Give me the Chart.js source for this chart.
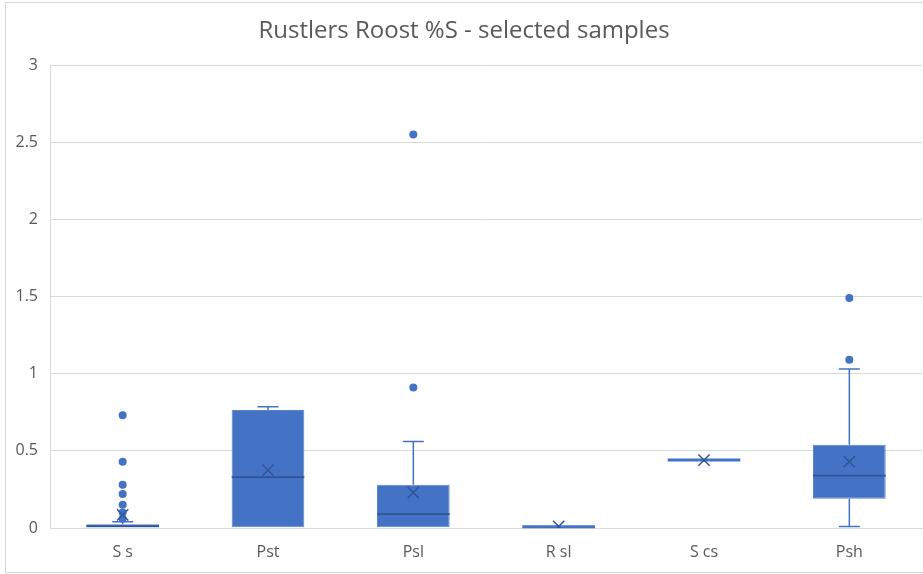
<!DOCTYPE html>
<html>
<head>
<meta charset="utf-8">
<title>Rustlers Roost %S</title>
<script src="https://cdn.jsdelivr.net/npm/chart.js@4.4.1/dist/chart.umd.min.js"></script>
<style>
  html, body { margin: 0; padding: 0; overflow: hidden; background: #fff; width: 923px; height: 574px; }
  #frame { position: absolute; left: 5px; top: 2px; width: 931px; height: 571px;
           border: 1px solid #d9d9d9; box-sizing: border-box; background: #fff; }
  canvas { display: block; }
</style>
</head>
<body>
<div id="frame"><canvas id="chart" width="929" height="569"></canvas></div>
<script>
// Sample groups on the category axis
const categories = ['S s', 'Pst', 'Psl', 'R sl', 'S cs', 'Psh'];

// Five-number summaries (%S) per group
const whiskerLow  = [0.004, 0.005, 0.005, 0.008, 0.44, 0.01];
const quartile1   = [0.004, 0.005, 0.005, 0.008, 0.44, 0.19];
const medians     = [0.012, 0.33,  0.09,  0.008, 0.44, 0.34];
const quartile3   = [0.025, 0.765, 0.28,  0.008, 0.44, 0.54];
const whiskerHigh = [0.04,  0.785, 0.56,  0.008, 0.44, 1.03];
const means       = [0.085, 0.375, 0.23,  0.01,  0.44, 0.43];

// Outlying samples: group name and %S
const outlierGroups = ['S s', 'S s', 'S s', 'S s', 'S s', 'S s', 'S s', 'Psl', 'Psl', 'Psh', 'Psh'];
const outlierValues = [0.73, 0.43, 0.28, 0.22, 0.15, 0.10, 0.06, 0.91, 2.55, 1.09, 1.49];

// Value axis
const yMin = 0, yMax = 3, yStep = 0.5;

const BLUE = '#4472C4';
const DARK = '#2F5597';
const TEXT = '#595959';
const GRID = '#D9D9D9';
const FONT = "'Open Sans', 'Liberation Sans', sans-serif";

// Whiskers behind the boxes, median lines on top of them
const boxPlotParts = {
  id: 'boxPlotParts',
  beforeDatasetsDraw(chart) {
    const x = chart.scales.x, y = chart.scales.y, ctx = chart.ctx;
    const cap = 21;
    ctx.save();
    ctx.strokeStyle = BLUE;
    ctx.lineWidth = 1.5;
    categories.forEach((c, i) => {
      const cx = x.getPixelForValue(i);
      const pairs = [[whiskerHigh[i], quartile3[i]], [whiskerLow[i], quartile1[i]]];
      pairs.forEach(([w, q]) => {
        if (Math.abs(w - q) < 1e-9) return;
        const wy = y.getPixelForValue(w), qy = y.getPixelForValue(q);
        ctx.beginPath();
        ctx.moveTo(cx, qy); ctx.lineTo(cx, wy);
        ctx.moveTo(cx - cap / 2, wy); ctx.lineTo(cx + cap / 2, wy);
        ctx.stroke();
      });
    });
    ctx.restore();
  },
  afterDatasetDraw(chart, args) {
    if (args.meta.type !== 'bar') return;
    const y = chart.scales.y, ctx = chart.ctx;
    ctx.save();
    args.meta.data.forEach((bar, i) => {
      const collapsed = Math.abs(quartile3[i] - quartile1[i]) < 1e-9;
      const my = y.getPixelForValue(medians[i]);
      ctx.strokeStyle = collapsed ? BLUE : DARK;
      ctx.lineWidth = collapsed ? 3 : 1.75;
      ctx.beginPath();
      ctx.moveTo(bar.x - bar.width / 2, my);
      ctx.lineTo(bar.x + bar.width / 2, my);
      ctx.stroke();
    });
    ctx.restore();
  }
};

new Chart(document.getElementById('chart'), {
  data: {
    labels: categories,
    datasets: [
      {
        type: 'bar',
        label: 'Interquartile range',
        data: categories.map((c, i) => [quartile1[i], quartile3[i]]),
        backgroundColor: BLUE,
        borderColor: '#5A84CC',
        borderWidth: 1,
        borderSkipped: false,
        barPercentage: 0.5,
        categoryPercentage: 1,
        order: 3
      },
      {
        type: 'line',
        label: 'Outliers',
        data: outlierGroups.map((g, i) => ({ x: g, y: outlierValues[i] })),
        showLine: false,
        pointStyle: 'circle',
        pointRadius: 4,
        pointBackgroundColor: BLUE,
        pointBorderColor: BLUE,
        pointBorderWidth: 0,
        order: 2
      },
      {
        type: 'line',
        label: 'Mean',
        data: categories.map((c, i) => ({ x: c, y: means[i] })),
        showLine: false,
        pointStyle: 'crossRot',
        pointRadius: 8,
        pointBorderColor: DARK,
        pointBorderWidth: 1.5,
        order: 1
      }
    ]
  },
  options: {
    responsive: false,
    animation: false,
    events: [],
    layout: { padding: { left: 0, right: 13, top: 0, bottom: 0 } },
    plugins: {
      legend: { display: false },
      tooltip: { enabled: false },
      title: {
        display: true,
        text: 'Rustlers Roost %S - selected samples',
        color: TEXT,
        font: { family: FONT, size: 24, weight: 'normal' },
        padding: { top: 14, bottom: 19.2 }
      }
    },
    scales: {
      x: {
        type: 'category',
        grid: { display: false, drawTicks: false },
        border: { display: true, color: GRID, width: 1 },
        ticks: { color: TEXT, font: { family: FONT, size: 16 }, padding: 15 },
        afterFit(scale) { scale.height = 44; }
      },
      y: {
        min: yMin,
        max: yMax,
        grid: { color: GRID, lineWidth: 1, drawTicks: false },
        border: { display: true, color: GRID, width: 1 },
        ticks: {
          stepSize: yStep,
          color: TEXT,
          font: { family: FONT, size: 16 },
          padding: 12,
          callback: (v) => String(Math.round(v * 10) / 10)
        },
        afterFit(scale) { scale.width = 44; }
      }
    }
  },
  plugins: [boxPlotParts]
});
</script>
</body>
</html>
